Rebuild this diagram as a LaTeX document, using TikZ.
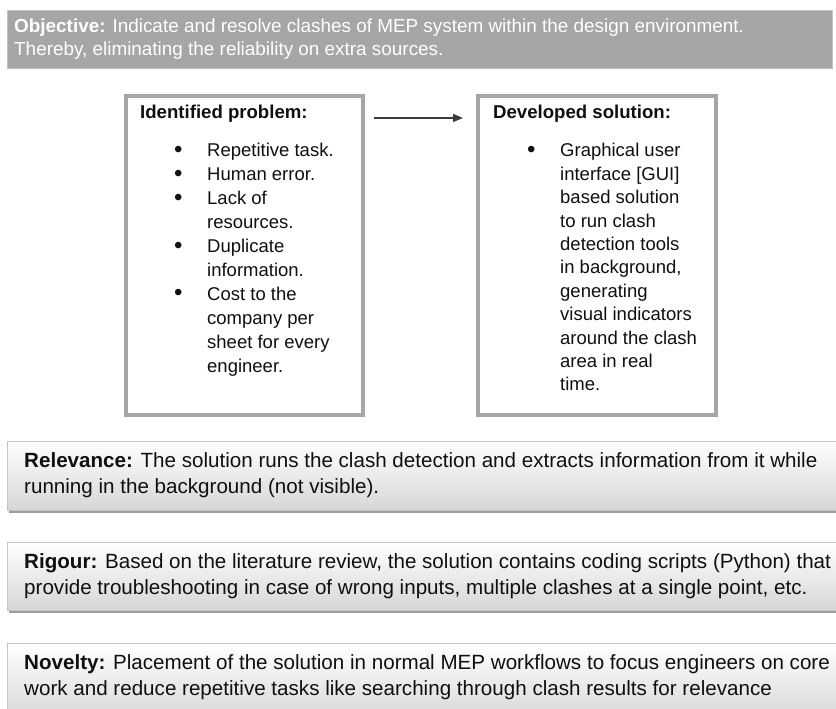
\documentclass[tikz,border=0pt]{standalone}
\usepackage{fontspec}
\setmainfont{Liberation Sans}
\usetikzlibrary{arrows.meta}
\definecolor{objgray}{HTML}{A6A6A6}
\definecolor{objborder}{HTML}{C4C4C4}
\definecolor{boxgray}{HTML}{A6A6A6}
\definecolor{lowborder}{HTML}{C6C6C6}
\definecolor{lowbottom}{HTML}{D6D6D6}
\definecolor{shadowgray}{HTML}{9E9E9E}
\definecolor{txt}{HTML}{101010}
\definecolor{arrowgray}{HTML}{3A3A3A}
\newcommand{\mybul}{\raisebox{-0.5pt}{\scalebox{1.3}{\textbullet}}}
\begin{document}
\begin{tikzpicture}[x=1pt,y=-1pt,
  objbarstyle/.style={fill=objgray, draw=objborder, line width=0.8pt, minimum width=825pt, minimum height=58pt, anchor=north west, inner sep=0pt},
  probbox/.style={draw=boxgray, line width=4pt, minimum width=237pt, minimum height=319pt, anchor=north west, inner sep=0pt},
  lowbox/.style={draw=lowborder, line width=0.8pt, top color=white, bottom color=lowbottom, minimum width=840pt, anchor=north west, inner sep=0pt},
  lowshadow/.style={fill=shadowgray, minimum width=840pt, anchor=north west, inner sep=0pt},
  txtnode/.style={inner sep=0pt, anchor=base west, text=txt},
  headfont/.style={font=\fontsize{18.6}{22}\selectfont\bfseries},
  lowfont/.style={font=\fontsize{20.6}{26}\selectfont},
  conn/.style={draw=arrowgray, line width=1.3pt, -{Triangle[length=10pt,width=8pt]}}
]
\clip (0,0) rectangle (836,709);
\fill[white] (0,0) rectangle (836,709);

% Objective bar
\node[objbarstyle] (objbar) at (7,10) {};
\node[txtnode, text=white, font=\fontsize{18.9}{23}\selectfont] (objtext) at (14,33)
  {\begin{tabular}[t]{@{}l@{}}\textbf{Objective:} Indicate and resolve clashes of MEP system within the design environment.\\
   Thereby, eliminating the reliability on extra sources.\end{tabular}};

% Problem / solution boxes
\node[probbox] (lbox) at (124,94) {};
\node[probbox, minimum width=238pt] (rbox) at (476,94) {};

\node[txtnode, headfont] (lhead) at (140,118.5) {Identified problem:};
\node[txtnode, headfont] (rhead) at (493,118.5) {Developed solution:};

\node[txtnode, font=\fontsize{18.5}{23.9}\selectfont] (llist) at (174,157)
  {\begin{tabular}[t]{@{}p{33pt}@{}l@{}}
   \mybul & Repetitive task.\\
   \mybul & Human error.\\
   \mybul & Lack of\\
          & resources.\\
   \mybul & Duplicate\\
          & information.\\
   \mybul & Cost to the\\
          & company per\\
          & sheet for every\\
          & engineer.
   \end{tabular}};

\node[txtnode, font=\fontsize{18.5}{23.4}\selectfont] (rlist) at (527,157)
  {\begin{tabular}[t]{@{}p{33pt}@{}l@{}}
   \mybul & Graphical user\\
          & interface [GUI]\\
          & based solution\\
          & to run clash\\
          & detection tools\\
          & in background,\\
          & generating\\
          & visual indicators\\
          & around the clash\\
          & area in real\\
          & time.
   \end{tabular}};

\draw[conn] ([xshift=9pt,yshift=-24pt]lbox.north east) -- ([xshift=-13pt,yshift=-24pt]rbox.north west);

% Relevance
\node[lowshadow, minimum height=69pt] (relshadow) at (9,444) {};
\node[lowbox, minimum height=69pt] (relbox) at (7,441) {};
\node[txtnode, lowfont] (reltext) at (24,467)
  {\begin{tabular}[t]{@{}l@{}}\textbf{Relevance:} The solution runs the clash detection and extracts information from it while\\
   running in the background (not visible).\end{tabular}};

% Rigour
\node[lowshadow, minimum height=68pt] (rigshadow) at (9,545) {};
\node[lowbox, minimum height=68pt] (rigbox) at (7,542) {};
\node[txtnode, lowfont] (rigtext) at (24,568)
  {\begin{tabular}[t]{@{}l@{}}\textbf{Rigour:} Based on the literature review, the solution contains coding scripts (Python) that\\
   provide troubleshooting in case of wrong inputs, multiple clashes at a single point, etc.\end{tabular}};

% Novelty
\node[lowshadow, minimum height=80pt] (novshadow) at (9,646) {};
\node[lowbox, minimum height=80pt] (novbox) at (7,643) {};
\node[txtnode, lowfont] (novtext) at (24,669)
  {\begin{tabular}[t]{@{}l@{}}\textbf{Novelty:} Placement of the solution in normal MEP workflows to focus engineers on core\\
   work and reduce repetitive tasks like searching through clash results for relevance\end{tabular}};
\end{tikzpicture}
\end{document}
